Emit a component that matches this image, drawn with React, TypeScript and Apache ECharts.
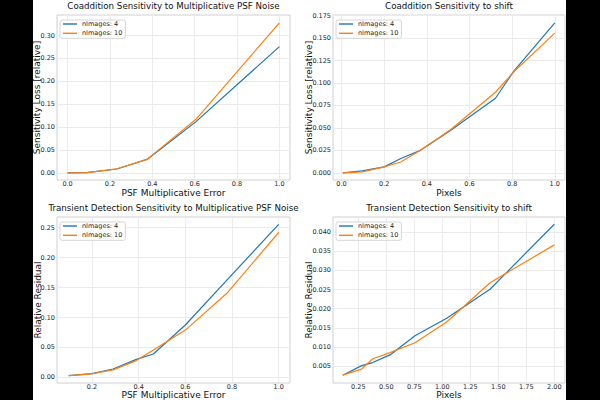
import React, { useEffect, useRef } from 'react';
import * as echarts from 'echarts';

const FONT = 'DejaVu Sans';

// Panel 1: Coaddition Sensitivity to Multiplicative PSF Noise
const coaddPsfX = [0, 0.09, 0.233, 0.375, 0.605, 1.0];
const coaddPsfN4 = [0, 0.0008, 0.0085, 0.0295, 0.1115, 0.276];
const coaddPsfN10 = [0, 0.0005, 0.009, 0.0295, 0.1165, 0.328];

// Panel 2: Coaddition Sensitivity to shift
const coaddShiftX = [0.006, 0.097, 0.2, 0.278, 0.37, 0.511, 0.722, 0.808, 1.0];
const coaddShiftN4 = [0, 0.0022, 0.0066, 0.016, 0.025, 0.047, 0.083, 0.1132, 0.167];
const coaddShiftN10 = [0, 0.0011, 0.0066, 0.012, 0.025, 0.048, 0.0897, 0.1125, 0.1555];

// Panel 3: Transient Detection Sensitivity to Multiplicative PSF Noise
const transPsfX = [0.1, 0.2, 0.29, 0.39, 0.463, 0.6, 0.777, 1.0];
const transPsfN4 = [0.003, 0.0062, 0.014, 0.03, 0.039, 0.0875, 0.162, 0.2555];
const transPsfN10 = [0.003, 0.006, 0.0125, 0.028, 0.0456, 0.079, 0.14, 0.242];

// Panel 4: Transient Detection Sensitivity to shift
const transShiftX = [0.111, 0.28, 0.379, 0.533, 0.756, 1.039, 1.426, 2.0];
const transShiftN4 = [0.0026, 0.0051, 0.0059, 0.0079, 0.0129, 0.0175, 0.0251, 0.0421];
const transShiftN10 = [0.0026, 0.0042, 0.0069, 0.0085, 0.0111, 0.0165, 0.0268, 0.0367];

// Tick labels
const ticksX1 = [0, 0.2, 0.4, 0.6, 0.8, 1.0];
const ticksY1 = [0, 0.05, 0.1, 0.15, 0.2, 0.25, 0.3];
const ticksX2 = [0, 0.2, 0.4, 0.6, 0.8, 1.0];
const ticksY2 = [0, 0.025, 0.05, 0.075, 0.1, 0.125, 0.15, 0.175];
const ticksX3 = [0.2, 0.4, 0.6, 0.8, 1.0];
const ticksY3 = [0, 0.05, 0.1, 0.15, 0.2, 0.25];
const ticksX4 = [0.25, 0.5, 0.75, 1.0, 1.25, 1.5, 1.75, 2.0];
const ticksY4 = [0.005, 0.01, 0.015, 0.02, 0.025, 0.03, 0.035, 0.04];

const seriesNames = ['nImages: 4', 'nImages: 10'];
const colors = ['#1f77b4', '#ff7f0e'];

const panels = [
  {
    title: 'Coaddition Sensitivity to Multiplicative PSF Noise',
    xName: 'PSF Multiplicative Error', yName: 'Sensitivity Loss [relative]',
    grid: { left: 57, top: 15, width: 233, height: 165 },
    xMin: -0.05, xMax: 1.05, yMin: -0.0155, yMax: 0.345,
    xTicks: ticksX1, yTicks: ticksY1, xDec: 1, yDec: 2,
    x: coaddPsfX, a: coaddPsfN4, b: coaddPsfN10, yNameX: 36.7, xNameY: 192.8,
  },
  {
    title: 'Coaddition Sensitivity to shift',
    xName: 'Pixels', yName: 'Sensitivity Loss [relative]',
    grid: { left: 333, top: 15, width: 232, height: 165 },
    xMin: -0.04, xMax: 1.048, yMin: -0.008, yMax: 0.1757,
    xTicks: ticksX2, yTicks: ticksY2, xDec: 1, yDec: 3,
    x: coaddShiftX, a: coaddShiftN4, b: coaddShiftN10, yNameX: 309, xNameY: 192.8,
  },
  {
    title: 'Transient Detection Sensitivity to Multiplicative PSF Noise',
    xName: 'PSF Multiplicative Error', yName: 'Relative Residual',
    grid: { left: 57, top: 217, width: 233, height: 166 },
    xMin: 0.05, xMax: 1.0485, yMin: -0.0094, yMax: 0.2679,
    xTicks: ticksX3, yTicks: ticksY3, xDec: 1, yDec: 2,
    x: transPsfX, a: transPsfN4, b: transPsfN10, yNameX: 37.7, xNameY: 394.8,
  },
  {
    title: 'Transient Detection Sensitivity to shift',
    xName: 'Pixels', yName: 'Relative Residual',
    grid: { left: 333, top: 217, width: 232, height: 166 },
    xMin: 0.024, xMax: 2.0955, yMin: 0.00055, yMax: 0.044,
    xTicks: ticksX4, yTicks: ticksY4, xDec: 2, yDec: 3,
    x: transShiftX, a: transShiftN4, b: transShiftN10, yNameX: 309, xNameY: 394.8,
  },
];

export default function App() {
  const ref = useRef<HTMLDivElement>(null);
  useEffect(() => {
    const chart = echarts.init(ref.current!, null, { renderer: 'svg' });
    const labelStyle = { fontSize: 6.5, color: '#262626', fontFamily: FONT };
    const nameStyle = { fontSize: 9, fill: '#111', fontFamily: FONT, align: 'center', verticalAlign: 'middle' };
    const nameGraphics = panels.flatMap((p) => [
      {
        type: 'text', x: p.grid.left + p.grid.width / 2, y: p.xNameY, silent: true,
        style: { text: p.xName, ...nameStyle },
      },
      {
        type: 'text', x: p.yNameX, y: p.grid.top + p.grid.height / 2, rotation: Math.PI / 2, silent: true,
        style: { text: p.yName, ...nameStyle },
      },
    ]);
    const option: any = {
      animation: false,
      backgroundColor: '#ffffff',
      textStyle: { fontFamily: FONT },
      title: panels.map((p) => ({
        text: p.title,
        left: p.grid.left + p.grid.width / 2,
        top: p.grid.top - 14,
        textAlign: 'center',
        padding: 0,
        textStyle: { fontSize: 8.7, fontWeight: 'normal', color: '#111', fontFamily: FONT },
      })),
      grid: panels.map((p) => ({
        ...p.grid,
        show: true,
        borderColor: '#d0d0d0',
        borderWidth: 1,
        backgroundColor: 'transparent',
        containLabel: false,
      })),
      xAxis: panels.map((p, i) => ({
        type: 'value', gridIndex: i, min: p.xMin, max: p.xMax,
        axisLine: { show: false },
        axisTick: { show: false, customValues: p.xTicks },
        axisLabel: { customValues: p.xTicks, margin: 0.5, formatter: (v: number) => v.toFixed(p.xDec), ...labelStyle },
        splitLine: { show: true, lineStyle: { color: '#ebebeb', width: 1 } },
      })),
      yAxis: panels.map((p, i) => ({
        type: 'value', gridIndex: i, min: p.yMin, max: p.yMax,
        axisLine: { show: false },
        axisTick: { show: false, customValues: p.yTicks },
        axisLabel: { customValues: p.yTicks, margin: 2, formatter: (v: number) => v.toFixed(p.yDec), ...labelStyle },
        splitLine: { show: true, lineStyle: { color: '#ebebeb', width: 1 } },
      })),
      legend: panels.map((p) => ({
        data: seriesNames,
        orient: 'vertical',
        left: p.grid.left + 3,
        top: p.grid.top + 5,
        padding: [0, 3, 1, 3],
        itemGap: 1.3,
        itemWidth: 14,
        itemHeight: 8,
        icon: 'path://M0,3.3H14V4.7H0Z',
        backgroundColor: 'rgba(255,255,255,0.85)',
        borderColor: '#d6d6d6',
        borderWidth: 1,
        borderRadius: 2,
        textStyle: { fontSize: 6.5, color: '#262626', fontFamily: FONT, lineHeight: 8 },
        selectedMode: false,
      })),
      series: panels.flatMap((p, i) => [
        {
          name: seriesNames[0], type: 'line', xAxisIndex: i, yAxisIndex: i,
          data: p.x.map((x, k) => [x, p.a[k]]),
          showSymbol: false, color: colors[0], lineStyle: { width: 1.2, color: colors[0] },
        },
        {
          name: seriesNames[1], type: 'line', xAxisIndex: i, yAxisIndex: i,
          data: p.x.map((x, k) => [x, p.b[k]]),
          showSymbol: false, color: colors[1], lineStyle: { width: 1.2, color: colors[1] },
        },
      ]),
      graphic: [
        { type: 'rect', shape: { x: 0, y: 0, width: 33, height: 400 }, style: { fill: '#000' }, silent: true },
        { type: 'rect', shape: { x: 566, y: 0, width: 34, height: 400 }, style: { fill: '#000' }, silent: true },
        ...nameGraphics,
      ],
    };
    chart.setOption(option);
    return () => chart.dispose();
  }, []);
  return <div ref={ref} style={{ position: 'fixed', left: 0, top: 0, width: 600, height: 400 }} />;
}
